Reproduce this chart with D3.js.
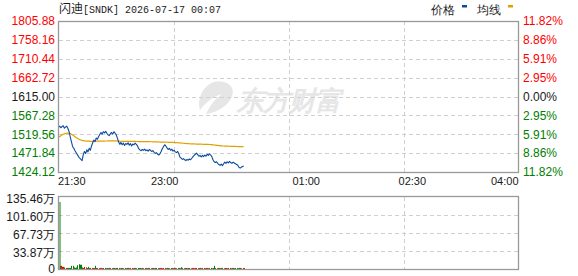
<!DOCTYPE html>
<html>
<head>
<meta charset="utf-8">
<script src="https://cdn.jsdelivr.net/npm/d3@7"></script>
<style>
body { margin: 0; background: #fff; }
text { font-family: "Liberation Sans", Arial, sans-serif; }
</style>
</head>
<body>
<div id="chart"></div>
<script>
// --- data ---
var stockName = "闪迪";
var stockInfo = "[SNDK] 2026-07-17 00:07";
var baseClose = 1615.00;
var priceTicks = [1424.12, 1471.84, 1519.56, 1567.28, 1615.00, 1662.72, 1710.44, 1758.16, 1805.88];
var pctLabels = ["11.82%", "8.86%", "5.91%", "2.95%", "0.00%", "2.95%", "5.91%", "8.86%", "11.82%"];
var volTicks = [0, 33.87, 67.73, 101.60, 135.46];
var volLabels = ["0", "33.87万", "67.73万", "101.60万", "135.46万"];
var timeLabels = ["21:30", "23:00", "01:00", "02:30", "04:00"];
var timeMinutes = [0, 90, 210, 300, 390];
var sessionMinutes = 390;

// one value per minute from 21:30
var price = [
  1537, 1540, 1536, 1539, 1541, 1535, 1538, 1540, 1534, 1526,
  1512, 1500, 1488, 1484, 1478, 1473, 1468, 1463, 1459, 1456,
  1453, 1468, 1476, 1471, 1480, 1475, 1484, 1479, 1490, 1498,
  1505, 1501, 1510, 1507, 1514, 1519, 1524, 1520, 1526, 1523,
  1527, 1522, 1518, 1516, 1521, 1524, 1520, 1526, 1522, 1518,
  1509, 1500, 1494, 1499, 1493, 1497, 1491, 1496, 1494, 1498,
  1492, 1496, 1490, 1495, 1493, 1497, 1494, 1490, 1483, 1480,
  1478, 1481, 1479, 1482, 1478, 1480, 1477, 1481, 1479, 1476,
  1478, 1474, 1471, 1473, 1469, 1467, 1470, 1476, 1483, 1488,
  1493, 1490, 1485, 1481, 1484, 1479, 1482, 1477, 1479, 1475,
  1473, 1476, 1470, 1462, 1459, 1456, 1458, 1455, 1453, 1456,
  1454, 1457, 1455, 1459, 1463, 1466, 1469, 1472, 1468, 1464,
  1466, 1462, 1466, 1463, 1467, 1464, 1469, 1466, 1470, 1467,
  1463, 1455, 1450, 1448, 1450, 1446, 1443, 1441, 1444, 1440,
  1445, 1449, 1446, 1450, 1447, 1451, 1448, 1446, 1449, 1447,
  1445, 1443, 1441, 1436, 1434, 1436, 1438, 1439
];

var avgPrice = [
  1512, 1514, 1516, 1518, 1519.5, 1520.5, 1521.5, 1522.5, 1522.5, 1522,
  1521, 1519.5, 1517.5, 1515.5, 1513.5, 1511.5, 1509.5, 1507.5, 1506, 1505,
  1504, 1503.5, 1503, 1502.5, 1502.2, 1502, 1502, 1501.8, 1501.8, 1501.8,
  1501.9, 1502, 1502, 1502.1, 1502.2, 1502.2, 1502.3, 1502.3, 1502.4, 1502.4,
  1502.5, 1502.5, 1502.6, 1502.6, 1502.6, 1502.7, 1502.7, 1502.7, 1502.8, 1502.6,
  1502.4, 1502.2, 1502, 1501.9, 1501.8, 1501.8, 1501.7, 1501.7, 1501.6, 1501.6,
  1501.5, 1501.5, 1501.4, 1501.4, 1501.3, 1501.3, 1501.2, 1501.2, 1501.1, 1501.1,
  1501.0, 1501.0, 1500.9, 1500.9, 1500.8, 1500.8, 1500.7, 1500.7, 1500.6, 1500.6,
  1500.5, 1500.4, 1500.3, 1500.2, 1500.1, 1500.0, 1499.9, 1499.8, 1499.7, 1499.6,
  1499.5, 1499.4, 1499.3, 1499.2, 1499.1, 1499.0, 1498.9, 1498.8, 1498.7, 1498.5,
  1498.3, 1498.1, 1497.9, 1497.7, 1497.4, 1497.1, 1496.8, 1496.5, 1496.2, 1495.9,
  1495.7, 1495.5, 1495.3, 1495.2, 1495.1, 1495.0, 1494.9, 1494.8, 1494.7, 1494.6,
  1494.5, 1494.4, 1494.3, 1494.2, 1494.1, 1494.0, 1493.9, 1493.8, 1493.6, 1493.4,
  1493.1, 1492.8, 1492.4, 1492.0, 1491.6, 1491.3, 1491.0, 1490.7, 1490.4, 1490.1,
  1489.9, 1489.7, 1489.5, 1489.4, 1489.3, 1489.2, 1489.1, 1489.0, 1488.9, 1488.8,
  1488.7, 1488.6, 1488.5, 1488.4, 1488.3, 1488.2, 1488.1, 1488.0
];

// volume in 万
var volume = [
  126,
  6, 6, 4, 4, 3, 2, 2, 2, 2, 2,
  6, 6, 3, 2, 3, 7, 9, 8, 8, 3,
  2, 4, 3, 2, 4, 2, 2, 2, 2, 2,
  6, 2, 2, 1.5, 2, 2, 1.5, 2, 2, 1.5,
  2, 1.5, 2, 2, 1.5, 2, 2, 1.5, 2, 2,
  2, 1.5, 2, 2, 1.5, 2, 1.5, 2, 2, 1.5,
  2, 2, 1.5, 2, 2, 1.5, 2, 2, 2, 1.5,
  2, 1.5, 2, 2, 1.5, 2, 2, 1.5, 2, 2,
  1.5, 2, 2, 1.5, 2, 2, 2, 1.5, 2, 2,
  1.5, 2, 2, 1.5, 2, 2, 1.5, 2, 2, 1.5,
  2, 2, 1.5, 3.5, 2, 1.5, 2, 2, 1.5, 2,
  2, 1.5, 2, 2, 1.5, 2, 2, 1.5, 2, 2,
  1.5, 2, 2, 1.5, 2, 2, 1.5, 2, 2, 1.5,
  2, 6, 2, 1.5, 2, 2, 1.5, 2, 2, 1.5,
  2, 2, 1.5, 2, 2, 1.5, 2, 2, 1.5, 2,
  2, 1.5, 2, 2, 1.5, 2, 2
];

var RED = "#ff0000", GREEN = "#008000", DARK = "#1a1a1a";
var BLUE = "#0b4c9e", ORANGE = "#e0a000";

var width = 578, height = 276;
var left = 58.5, right = 518.5;

var svg = d3.select("#chart").append("svg")
  .attr("width", width)
  .attr("height", height)
  .attr("viewBox", [0, 0, width, height]);

var x = d3.scaleLinear().domain([0, sessionMinutes]).range([left, right]);
var y = d3.scaleLinear().domain([priceTicks[0], priceTicks[priceTicks.length - 1]]).range([172, 21]);
var yv = d3.scaleLinear().domain([0, volTicks[volTicks.length - 1]]).range([269, 197]);

function labelColor(v) {
  if (Math.abs(v - baseClose) < 0.001) return DARK;
  return v > baseClose ? RED : GREEN;
}

// watermark
var wm = svg.append("g").attr("fill", "#e6e6e6");
wm.append("path")
  .attr("d", "M214,82 C226,80 236,86 232,96 C229,104 220,112 206,114 C210,106 214,100 222,94 C214,96 206,102 200,110 C197,100 202,86 214,82 Z");
wm.append("text")
  .attr("x", 237).attr("y", 110)
  .attr("font-family", "'Noto Sans CJK SC'")
  .attr("font-size", 27)
  .attr("font-weight", "bold")
  .attr("font-style", "italic")
  .attr("letter-spacing", -1)
  .text("东方财富");

// grid: price panel
var grid = svg.append("g")
  .attr("stroke", "#d0d0d0")
  .attr("stroke-dasharray", "4,3")
  .attr("shape-rendering", "crispEdges");
grid.selectAll("line.h")
  .data(priceTicks.slice(1, -1))
  .join("line")
  .attr("x1", left).attr("x2", right)
  .attr("y1", d => Math.round(y(d)) + 0.5)
  .attr("y2", d => Math.round(y(d)) + 0.5);
var quarters = [1, 2, 3].map(k => k * sessionMinutes / 4);
grid.selectAll("line.v")
  .data(quarters)
  .join("line")
  .attr("x1", d => Math.round(x(d)) + 0.5).attr("x2", d => Math.round(x(d)) + 0.5)
  .attr("y1", 21).attr("y2", 172);

// grid: volume panel
var vgrid = svg.append("g")
  .attr("stroke", "#d0d0d0")
  .attr("stroke-dasharray", "4,3")
  .attr("shape-rendering", "crispEdges");
vgrid.selectAll("line.h")
  .data(volTicks.slice(1, -1))
  .join("line")
  .attr("x1", left).attr("x2", right)
  .attr("y1", d => Math.round(yv(d)) + 0.5)
  .attr("y2", d => Math.round(yv(d)) + 0.5);
vgrid.selectAll("line.v")
  .data(quarters)
  .join("line")
  .attr("x1", d => Math.round(x(d)) + 0.5).attr("x2", d => Math.round(x(d)) + 0.5)
  .attr("y1", 197).attr("y2", 269);

// volume bars
svg.append("g")
  .selectAll("rect")
  .data(volume)
  .join("rect")
  .attr("x", (d, i) => Math.round(x(i)) + (i == 0 ? 0.5 : 0))
  .attr("width", 1)
  .attr("y", d => yv(d))
  .attr("height", d => yv(0) - yv(d))
  .attr("fill", (d, i) => (i > 0 && price[i] >= price[i - 1]) ? RED : GREEN);

// average and price lines
svg.append("path")
  .datum(avgPrice)
  .attr("fill", "none")
  .attr("stroke", ORANGE)
  .attr("stroke-width", 1.2)
  .attr("d", d3.line().x((d, i) => x(i)).y(d => y(d)));

svg.append("path")
  .datum(price)
  .attr("fill", "none")
  .attr("stroke", BLUE)
  .attr("stroke-width", 1.1)
  .attr("stroke-linejoin", "round")
  .attr("d", d3.line().x((d, i) => x(i)).y(d => y(d)));

// frames
svg.append("rect")
  .attr("x", left).attr("y", 21.5)
  .attr("width", right - left).attr("height", 151)
  .attr("fill", "none").attr("stroke", "#999").attr("stroke-width", 1.3);
svg.append("rect")
  .attr("x", left).attr("y", 196.5)
  .attr("width", right - left).attr("height", 73)
  .attr("fill", "none").attr("stroke", "#999").attr("stroke-width", 1.3);

// left price labels
svg.append("g")
  .selectAll("text")
  .data(priceTicks)
  .join("text")
  .attr("x", 55)
  .attr("y", d => y(d))
  .attr("dy", "0.36em")
  .attr("text-anchor", "end")
  .attr("font-size", 12)
  .attr("fill", d => labelColor(d))
  .text(d => d.toFixed(2));

// right percent labels
svg.append("g")
  .selectAll("text")
  .data(priceTicks)
  .join("text")
  .attr("x", 523)
  .attr("y", d => y(d))
  .attr("dy", "0.36em")
  .attr("font-size", 12)
  .attr("fill", d => labelColor(d))
  .text((d, i) => pctLabels[i]);

// time labels
svg.append("g")
  .selectAll("text")
  .data(timeLabels)
  .join("text")
  .attr("x", (d, i) => x(timeMinutes[i]) + (i == 0 ? -0.5 : 0))
  .attr("y", 185)
  .attr("text-anchor", (d, i) => i == 0 ? "start" : (i == timeLabels.length - 1 ? "end" : "middle"))
  .attr("font-family", "'Liberation Mono', monospace")
  .attr("font-size", 11)
  .attr("fill", DARK)
  .text(d => d);

// volume labels
svg.append("g")
  .selectAll("text")
  .data(volTicks)
  .join("text")
  .attr("x", 55)
  .attr("y", d => d == 0 ? yv(d) - 0.5 : yv(d) + 1.5)
  .attr("dy", "0.36em")
  .attr("text-anchor", "end")
  .attr("font-size", 12)
  .attr("fill", DARK)
  .text((d, i) => volLabels[i]);

// title
var t = svg.append("text")
  .attr("x", 59).attr("y", 13)
  .attr("font-size", 12)
  .attr("fill", DARK);
t.append("tspan")
  .attr("font-family", "'Noto Sans CJK SC'")
  .text(stockName);
t.append("tspan")
  .attr("font-family", "'Liberation Mono', monospace")
  .attr("font-size", 10)
  .text(stockInfo);

// legend
var lg = svg.append("g").attr("font-family", "'Noto Sans CJK SC'").attr("font-size", 12).attr("fill", DARK);
lg.append("text").attr("x", 431).attr("y", 14).text("价格");
lg.append("rect").attr("x", 462).attr("y", 5).attr("width", 5).attr("height", 2.5).attr("fill", BLUE);
lg.append("text").attr("x", 477).attr("y", 14).text("均线");
lg.append("rect").attr("x", 508).attr("y", 5).attr("width", 5).attr("height", 2.5).attr("fill", ORANGE);
</script>
</body>
</html>
